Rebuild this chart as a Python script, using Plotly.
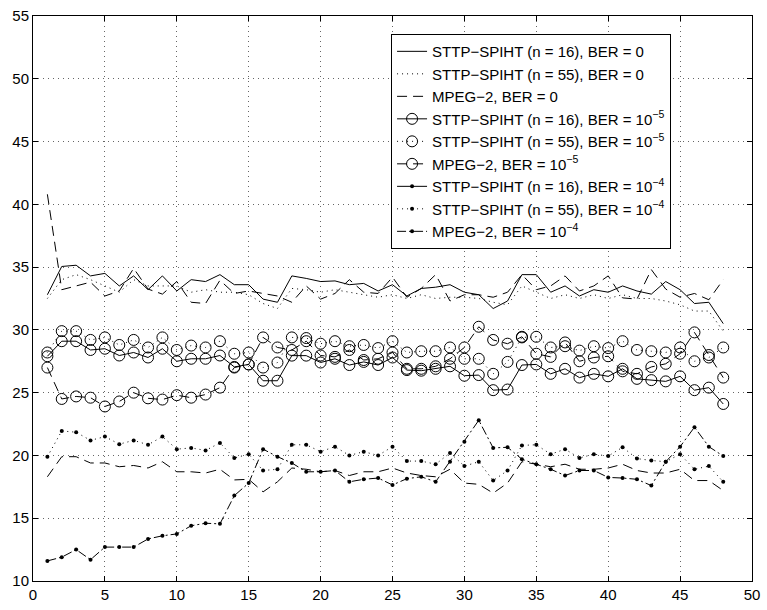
import plotly.graph_objects as go

frames = list(range(1, 49))

# BER = 0
sttp16_ber0 = [32.8, 35.05, 35.15, 34.3, 34.5, 33.5, 34.3, 33.2, 34.3, 33.1, 34.0, 33.85, 34.4, 33.6, 33.6, 32.45,
               32.2, 34.3, 34.1, 33.85, 33.9, 33.6, 33.7, 33.1, 33.6, 32.7, 33.3, 33.4, 33.6, 33.0, 32.8, 31.7,
               32.3, 34.4, 34.4, 33.0, 33.5, 32.7, 33.2, 33.0, 33.5, 33.1, 32.85, 33.85, 33.2, 32.1, 32.2, 30.5]
sttp55_ber0 = [32.5, 34.0, 34.4, 34.0, 33.5, 33.0, 34.0, 33.5, 33.5, 33.5, 33.0, 33.2, 33.0, 33.0, 32.8, 32.1,
               31.7, 33.3, 33.2, 33.0, 33.2, 33.0, 32.8, 32.6, 32.8, 32.5, 32.8, 32.5, 32.6, 32.6, 32.5, 32.2,
               32.0, 33.5, 33.0, 32.5, 32.8, 32.5, 32.8, 32.5, 32.8, 32.5, 32.5, 32.3, 32.0, 31.5, 31.5, 29.9]
mpeg_ber0 = [40.8, 33.2, 33.5, 33.8, 32.7, 33.1, 34.9, 33.25, 32.85, 33.85, 32.2, 32.1, 33.95, 32.9, 33.1, 32.9,
             32.7, 32.2, 33.5, 32.45, 32.9, 34.0, 33.0, 32.9, 34.2, 32.6, 33.3, 34.4, 32.3, 32.8, 32.8, 32.6,
             33.0, 34.4, 33.2, 33.5, 34.3, 33.1, 33.5, 34.3, 32.55, 32.45, 34.8, 33.25, 32.6, 32.9, 32.4, 34.0]

# BER = 1e-5
sttp16_ber5 = [27.9, 29.1, 29.1, 28.4, 28.5, 27.96, 28.2, 27.8, 28.5, 27.5, 27.7, 27.7, 27.96, 27.05, 27.25, 25.95,
               25.95, 27.95, 27.95, 27.4, 27.7, 27.2, 27.45, 27.2, 27.8, 26.8, 26.75, 26.9, 27.1, 26.35, 26.4, 25.2,
               25.25, 27.2, 27.25, 26.5, 26.9, 26.2, 26.5, 26.3, 26.9, 26.1, 26.0, 25.9, 26.3, 25.2, 25.4, 24.1]
sttp55_ber5 = [28.2, 29.9, 29.9, 29.2, 29.4, 28.8, 29.2, 28.6, 29.4, 28.4, 28.75, 28.6, 29.1, 28.1, 28.2, 27.0,
               27.4, 29.4, 29.35, 28.9, 29.1, 28.7, 28.8, 28.55, 29.1, 28.2, 28.3, 28.3, 28.6, 27.7, 27.7, 26.5,
               27.45, 29.4, 29.45, 28.6, 28.7, 28.35, 28.7, 28.55, 29.1, 28.4, 28.3, 28.2, 28.6, 27.5, 27.8, 28.6]
mpeg_ber5 = [27.0, 24.5, 24.7, 24.6, 23.9, 24.3, 25.0, 24.55, 24.45, 24.8, 24.6, 24.85, 25.4, 27.0, 27.25, 29.4,
             28.6, 28.4, 29.1, 27.96, 27.85, 28.4, 27.6, 27.7, 28.2, 26.9, 26.9, 27.1, 27.7, 28.6, 30.25, 29.2,
             28.9, 29.45, 28.1, 27.85, 29.0, 27.5, 27.8, 27.9, 26.7, 26.5, 27.05, 27.3, 28.1, 29.8, 28.0, 26.2]

# BER = 1e-4
sttp16_ber4 = [18.3, 19.9, 19.9, 19.4, 19.4, 19.1, 19.2, 19.0, 19.5, 18.7, 18.7, 18.6, 18.9, 18.05, 18.1, 17.1,
               17.9, 19.0, 18.9, 18.7, 18.8, 18.4, 18.7, 18.7, 19.0, 18.6, 18.4, 18.3, 18.9, 17.8, 17.7, 17.0,
               17.8, 19.5, 19.3, 19.1, 19.3, 18.9, 18.9, 19.0, 19.3, 18.8, 18.6, 18.6, 18.9, 18.0, 18.0, 17.2]
sttp55_ber4 = [19.9, 21.95, 21.85, 21.2, 21.5, 20.9, 21.2, 20.85, 21.5, 20.5, 20.6, 20.4, 21.0, 19.8, 20.1, 18.8,
               18.9, 20.85, 20.85, 20.3, 20.7, 20.0, 20.3, 20.0, 20.7, 19.55, 19.55, 19.3, 20.2, 19.15, 19.5, 18.0,
               18.8, 20.8, 20.85, 20.1, 20.5, 19.8, 20.1, 19.95, 20.65, 19.75, 19.6, 19.5, 20.1, 18.9, 19.15, 17.9]
mpeg_ber4 = [11.6, 11.9, 12.5, 11.7, 12.7, 12.7, 12.7, 13.35, 13.6, 13.75, 14.4, 14.6, 14.55, 16.8, 17.8, 20.5,
             19.9, 19.4, 18.7, 18.7, 18.8, 17.9, 18.1, 18.2, 17.65, 18.15, 18.3, 17.9, 19.5, 21.1, 22.8, 20.6,
             20.65, 19.7, 19.3, 18.9, 18.4, 18.8, 18.8, 18.25, 18.2, 18.1, 17.6, 19.5, 20.7, 22.25, 20.7, 19.95]

x_ticks = [0, 5, 10, 15, 20, 25, 30, 35, 40, 45, 50]
y_ticks = [10, 15, 20, 25, 30, 35, 40, 45, 50, 55]

names = [
    "STTP\u2212SPIHT (n = 16), BER = 0",
    "STTP\u2212SPIHT (n = 55), BER = 0",
    "MPEG\u22122, BER = 0",
    "STTP\u2212SPIHT (n = 16), BER = 10<sup>\u22125</sup>",
    "STTP\u2212SPIHT (n = 55), BER = 10<sup>\u22125</sup>",
    "MPEG\u22122, BER = 10<sup>\u22125</sup>",
    "STTP\u2212SPIHT (n = 16), BER = 10<sup>\u22124</sup>",
    "STTP\u2212SPIHT (n = 55), BER = 10<sup>\u22124</sup>",
    "MPEG\u22122, BER = 10<sup>\u22124</sup>",
]

DOT = "1px,4px"
DASH = "10px,6px"
DASHDOT = "9px,3px,2px,3px"

fig = go.Figure()

def add(y, name, dash, marker=None, msize=0, show=True):
    kw = dict(x=frames, y=y, name=name, showlegend=show,
              line=dict(color="black", width=1, dash=dash))
    if marker:
        kw["mode"] = "lines+markers"
        if marker == "circle-open":
            kw["marker"] = dict(symbol="circle-open", size=msize, color="black", line=dict(width=1, color="black"))
        else:
            kw["marker"] = dict(symbol="circle", size=msize, color="black")
    else:
        kw["mode"] = "lines"
    fig.add_trace(go.Scatter(**kw))

add(sttp16_ber0, names[0], "solid")
add(sttp55_ber0, names[1], DOT)
add(mpeg_ber0, names[2], DASH)
add(sttp16_ber5, names[3], "solid", "circle-open", 11)
add(sttp55_ber5, names[4], DOT, "circle-open", 11)
add(mpeg_ber5, names[5], DASH, "circle-open", 11)
# n=16, BER=1e-4: drawn as in picture, legend entry with its nominal style
add(sttp16_ber4, names[6], DASH, show=False)
fig.add_trace(go.Scatter(x=[None], y=[None], name=names[6], mode="lines+markers",
                         line=dict(color="black", width=1),
                         marker=dict(symbol="circle", size=4, color="black")))
add(sttp55_ber4, names[7], DOT, "dot", 4)
add(mpeg_ber4, names[8], DASHDOT, "dot", 4)

axis_common = dict(
    showline=True, linecolor="black", linewidth=1, mirror="allticks",
    ticks="inside", ticklen=5, tickcolor="black", tickwidth=1,
    showgrid=True, gridcolor="#666666", gridwidth=1, griddash=DOT,
    zeroline=False, ticklabeloverflow="allow",
    tickfont=dict(family="Liberation Sans, Arial, sans-serif", size=15, color="black"),
)

fig.update_layout(
    width=767, height=610,
    margin=dict(l=33, r=7, t=7, b=28),
    paper_bgcolor="white", plot_bgcolor="white",
    xaxis=dict(range=[0, 50], tickvals=x_ticks, **axis_common),
    yaxis=dict(range=[10, 55], tickvals=y_ticks, **axis_common),
    legend=dict(
        x=0.498, y=0.968, xanchor="left", yanchor="top",
        bgcolor="white", bordercolor="black", borderwidth=1,
        font=dict(family="Liberation Sans, Arial, sans-serif", size=15, color="black"),
        traceorder="normal", itemwidth=30, tracegroupgap=0,
    ),
    showlegend=True,
)

fig.write_html("out.html")
